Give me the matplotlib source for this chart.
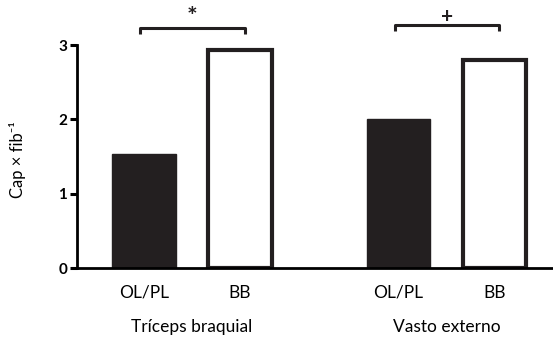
import numpy as np
import matplotlib.pyplot as plt

plt.rcParams['font.family'] = ['Lato', 'DejaVu Sans']

# data
groups = ['Tríceps braquial', 'Vasto externo']
conditions = ['OL/PL', 'BB']
triceps = [1.53, 2.93]
vasto = [2.0, 2.80]
signif = ['*', '+']
yticks = [0, 1, 2, 3]

pos_tri = np.array([0.0, 1.0])
pos_vas = np.array([2.65, 3.65])

fig = plt.figure(figsize=(5.53, 3.39), dpi=100)
ax = fig.add_axes([77/553, 71/339, 476/553, 268/339])

w = 0.66
for pos, vals in [(pos_tri, triceps), (pos_vas, vasto)]:
    ax.bar(pos[0], vals[0], w, color='#231f20', edgecolor='#231f20', linewidth=1)
    ax.bar(pos[1], vals[1], w, color='white', edgecolor='#231f20', linewidth=3)

# significance brackets
for pos, vals, mark, dy, fs in [(pos_tri, triceps, signif[0], 0.0, 18), (pos_vas, vasto, signif[1], 0.04, 15)]:
    y = 3.23 + dy
    x0, x1 = pos[0] - 0.04, pos[1] + 0.05
    ax.plot([x0, x0, x1, x1], [y - 0.08, y, y, y - 0.08], color='#231f20', lw=2.2,
            solid_capstyle='butt', clip_on=False)
    ax.text((x0 + x1) / 2, y - 0.02, mark, ha='center', va='bottom',
            fontsize=fs, fontweight='bold', color='#231f20')

ax.set_xlim(-0.698, 4.26)
ax.set_ylim(0, 268/74.3)
ax.set_xticks(np.concatenate([pos_tri, pos_vas]))
ax.set_xticklabels(conditions + conditions, fontsize=12.5)
ax.tick_params(axis='x', length=0, pad=12)
ax.set_yticks(yticks)
ax.set_yticklabels([str(t) for t in yticks], fontsize=11, fontweight='bold')
ax.tick_params(axis='y', length=5, width=2.2, direction='out', pad=2)

for s in ['top', 'right']:
    ax.spines[s].set_visible(False)
ax.spines['left'].set_bounds(0, 3)
ax.spines['left'].set_linewidth(2)
ax.spines['bottom'].set_linewidth(2)

ax.text(pos_tri.mean(), -0.79, groups[0], ha='center', va='center', fontsize=12.5)
ax.text(pos_vas.mean(), -0.79, groups[1], ha='center', va='center', fontsize=12.5)

fig.text(18/553, 1 - 160/339, 'Cap × fib⁻¹', rotation=90, ha='center', va='center',
         fontsize=12, family=['Lato', 'DejaVu Sans'])

fig.savefig('out.png', dpi=100)
